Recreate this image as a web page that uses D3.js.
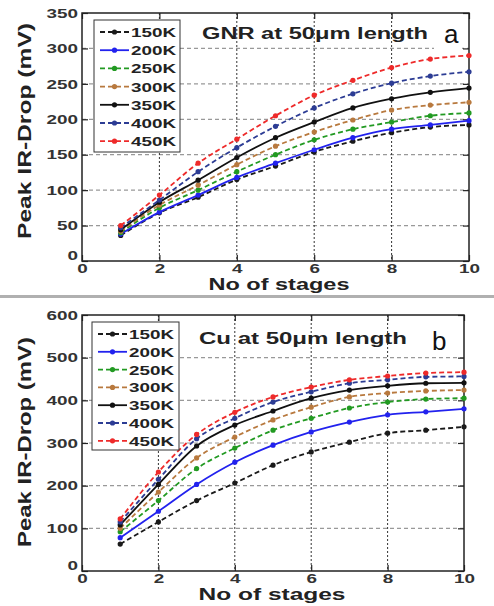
<!DOCTYPE html>
<html>
<head>
<meta charset="utf-8">
<script src="https://cdn.jsdelivr.net/npm/d3@7"></script>
<style>
  body { margin: 0; background: #fff; }
  text { font-family: "Liberation Sans", Arial, sans-serif; }
</style>
</head>
<body>
<div id="vis"></div>
<script>
// data
const STAGES = [1, 2, 3, 4, 5, 6, 7, 8, 9, 10];
const TEMPS = ["150K", "200K", "250K", "300K", "350K", "400K", "450K"];

// GNR at 50um (panel a)
const GNR_150K = [36, 68, 90, 115, 134, 154, 169, 181, 189, 192];
const GNR_200K = [38, 69, 93, 118, 138, 157, 174, 186, 192, 198];
const GNR_250K = [40, 75, 100, 126, 150, 171, 186, 196, 205, 209];
const GNR_300K = [42, 79, 107, 136, 162, 182, 199, 213, 220, 224];
const GNR_350K = [44, 83, 114, 146, 174, 196, 216, 229, 238, 244];
const GNR_400K = [47, 86, 126, 160, 190, 216, 236, 251, 261, 267];
const GNR_450K = [50, 93, 138, 172, 205, 234, 255, 273, 285, 290];

// Cu at 50um (panel b)
const CU_150K = [63, 115, 165, 206, 248, 279, 302, 323, 330, 338];
const CU_200K = [78, 140, 203, 255, 295, 326, 349, 366, 373, 380];
const CU_250K = [92, 165, 240, 288, 330, 358, 382, 396, 403, 405];
const CU_300K = [100, 185, 265, 314, 354, 384, 408, 417, 422, 424];
const CU_350K = [108, 203, 293, 342, 375, 405, 424, 434, 440, 441];
const CU_400K = [115, 215, 310, 358, 396, 420, 440, 448, 455, 456];
const CU_450K = [122, 232, 320, 372, 408, 431, 448, 457, 464, 466];

const X_TICKS = [0, 2, 4, 6, 8, 10];
const GNR_Y_TICKS = [0, 50, 100, 150, 200, 250, 300, 350];
const CU_Y_TICKS = [0, 100, 200, 300, 400, 500, 600];

// line styles per temperature
const COLORS = ["#1a1a1a", "#2222ee", "#229a22", "#b8793e", "#111111", "#2c3c94", "#ee2a2a"];
const DASHES = ["5,3", null, "5,3", "5,3", null, "5,3", "5,3"];

const FRAME_WIDTH = 494;
const FRAME_HEIGHT = 606;

const SVG = d3.select("#vis")
  .append("svg")
    .attr("width", FRAME_WIDTH)
    .attr("height", FRAME_HEIGHT);

// gray separator between the two panels
SVG.append("rect")
  .attr("x", 0).attr("y", 295)
  .attr("width", FRAME_WIDTH).attr("height", 3)
  .attr("fill", "#b0b0b0");

function build_panel(p) {
  const X_SCALE = d3.scaleLinear().domain([0, 10]).range([p.left, p.right]);
  const Y_SCALE = d3.scaleLinear().domain([0, p.yMax]).range([p.bottom, p.top]);
  const g = SVG.append("g");

  // grid lines
  g.selectAll(".hgrid")
    .data(p.yTicks.filter(d => d > 0 && d < p.yMax))
    .enter().append("line")
      .attr("x1", p.left).attr("x2", p.right)
      .attr("y1", d => Y_SCALE(d)).attr("y2", d => Y_SCALE(d))
      .attr("stroke", "#999").attr("stroke-width", 1.2)
      .attr("stroke-dasharray", "4,3");
  g.selectAll(".vgrid")
    .data(X_TICKS.filter(d => d > 0 && d < 10))
    .enter().append("line")
      .attr("x1", d => X_SCALE(d)).attr("x2", d => X_SCALE(d))
      .attr("y1", p.top).attr("y2", p.bottom)
      .attr("stroke", "#333").attr("stroke-width", 1)
      .attr("stroke-dasharray", "2,2");

  // axes: major and minor ticks pointing inward on every side
  const minorX = d3.range(0, 10.01, 0.5);
  const minorY = d3.range(0, p.yMax + 0.01, p.yMinor);

  const bottom = g.append("g").attr("transform", "translate(0," + p.bottom + ")");
  bottom.call(d3.axisBottom(X_SCALE).tickValues(minorX).tickSize(-3).tickFormat(""));
  bottom.call(d3.axisBottom(X_SCALE).tickValues(X_TICKS).tickSize(-6).tickPadding(3));

  const top = g.append("g").attr("transform", "translate(0," + p.top + ")");
  top.call(d3.axisTop(X_SCALE).tickValues(minorX).tickSize(-3).tickFormat(""));
  top.call(d3.axisTop(X_SCALE).tickValues(X_TICKS).tickSize(-6).tickFormat(""));

  const left = g.append("g").attr("transform", "translate(" + p.left + ",0)");
  left.call(d3.axisLeft(Y_SCALE).tickValues(minorY).tickSize(-3).tickFormat(""));
  left.call(d3.axisLeft(Y_SCALE).tickValues(p.yTicks).tickSize(-6).tickPadding(4));

  const right = g.append("g").attr("transform", "translate(" + p.right + ",0)");
  right.call(d3.axisRight(Y_SCALE).tickValues(minorY).tickSize(-3).tickFormat(""));
  right.call(d3.axisRight(Y_SCALE).tickValues(p.yTicks).tickSize(-6).tickFormat(""));

  g.selectAll(".domain").remove();
  g.selectAll(".tick line").attr("stroke", "#222").attr("stroke-width", 1.2);
  g.selectAll(".tick text")
    .attr("font-size", 13)
    .attr("font-weight", "bold")
    .attr("fill", "#333")
    .attr("textLength", function () { return this.textContent.length * 10.5; })
    .attr("lengthAdjust", "spacingAndGlyphs");
  left.selectAll(".tick text").filter(d => d === 0).attr("dy", "-0.1em");

  // frame
  g.append("rect")
    .attr("x", p.left).attr("y", p.top)
    .attr("width", p.right - p.left).attr("height", p.bottom - p.top)
    .attr("fill", "none").attr("stroke", "#222").attr("stroke-width", 1.5);

  // series
  const line = d3.line()
    .x((d, i) => X_SCALE(STAGES[i]))
    .y(d => Y_SCALE(d))
    .curve(d3.curveMonotoneX);

  p.series.forEach((vals, k) => {
    g.append("path")
      .attr("d", line(vals))
      .attr("fill", "none")
      .attr("stroke", COLORS[k])
      .attr("stroke-width", 1.8)
      .attr("stroke-dasharray", DASHES[k]);
    g.selectAll(".pt" + k)
      .data(vals)
      .enter().append("circle")
        .attr("cx", (d, i) => X_SCALE(STAGES[i]))
        .attr("cy", d => Y_SCALE(d))
        .attr("r", 2.6)
        .attr("fill", COLORS[k]);
  });

  // legend
  const lg = g.append("g");
  lg.append("rect")
    .attr("x", p.legend.x).attr("y", p.legend.y)
    .attr("width", p.legend.w).attr("height", p.legend.h)
    .attr("fill", "#fff").attr("stroke", "#333").attr("stroke-width", 1);
  TEMPS.forEach((t, k) => {
    const y = p.legend.y + 12 + k * p.legend.step;
    const x0 = p.legend.x + 6;
    lg.append("line")
      .attr("x1", x0).attr("x2", x0 + 29)
      .attr("y1", y).attr("y2", y)
      .attr("stroke", COLORS[k]).attr("stroke-width", 1.8)
      .attr("stroke-dasharray", DASHES[k] ? "5,3" : null);
    lg.append("circle")
      .attr("cx", x0 + 14.5).attr("cy", y).attr("r", 2.6)
      .attr("fill", COLORS[k]);
    lg.append("text")
      .attr("x", x0 + 31).attr("y", y + 5)
      .attr("font-size", 13).attr("font-weight", "bold").attr("fill", "#222")
      .attr("textLength", 45).attr("lengthAdjust", "spacingAndGlyphs")
      .text(t);
  });

  // title inside the plot
  g.append("text")
    .attr("x", p.title.x).attr("y", p.title.y)
    .attr("font-size", 16).attr("font-weight", "bold").attr("fill", "#222")
    .attr("textLength", p.title.len).attr("lengthAdjust", "spacingAndGlyphs")
    .text(p.title.text);

  // axis titles
  g.append("text")
    .attr("transform", "translate(31," + p.yLabel.cy + ") rotate(-90)")
    .attr("text-anchor", "middle")
    .attr("font-size", 18).attr("font-weight", "bold").attr("fill", "#222")
    .attr("textLength", p.yLabel.len).attr("lengthAdjust", "spacingAndGlyphs")
    .text("Peak IR-Drop (mV)");
  g.append("text")
    .attr("x", p.xLabel.cx).attr("y", p.xLabel.y)
    .attr("text-anchor", "middle")
    .attr("font-size", 17).attr("font-weight", "bold").attr("fill", "#222")
    .attr("textLength", p.xLabel.len).attr("lengthAdjust", "spacingAndGlyphs")
    .text("No of stages");

  // panel letter
  if (p.tag.box) {
    g.append("rect")
      .attr("x", p.tag.x - 10).attr("y", p.tag.y - 28)
      .attr("width", 28).attr("height", 34).attr("fill", "#fff");
  }
  g.append("text")
    .attr("x", p.tag.x).attr("y", p.tag.y)
    .attr("font-family", "Liberation Serif, serif")
    .attr("font-size", 26).attr("fill", "#111")
    .text(p.tag.text);
}

build_panel({
  left: 82, right: 469, top: 13, bottom: 261,
  yMax: 350, yTicks: GNR_Y_TICKS, yMinor: 10,
  series: [GNR_150K, GNR_200K, GNR_250K, GNR_300K, GNR_350K, GNR_400K, GNR_450K],
  legend: {x: 94, y: 20, w: 86, h: 132, step: 18.2},
  title: {x: 202, y: 39, len: 226, text: "GNR at 50\u03bcm length"},
  yLabel: {cy: 131, len: 216},
  xLabel: {cx: 279, y: 290, len: 141},
  tag: {x: 444, y: 43, text: "a", box: true}
});

build_panel({
  left: 82, right: 464, top: 315, bottom: 571,
  yMax: 600, yTicks: CU_Y_TICKS, yMinor: 20,
  series: [CU_150K, CU_200K, CU_250K, CU_300K, CU_350K, CU_400K, CU_450K],
  legend: {x: 92, y: 322, w: 87, h: 128, step: 17.8},
  title: {x: 199, y: 344, len: 208, text: "Cu at 50\u03bcm length"},
  yLabel: {cy: 442, len: 210},
  xLabel: {cx: 272, y: 600, len: 147},
  tag: {x: 432, y: 350, text: "b", box: false}
});
</script>
</body>
</html>
